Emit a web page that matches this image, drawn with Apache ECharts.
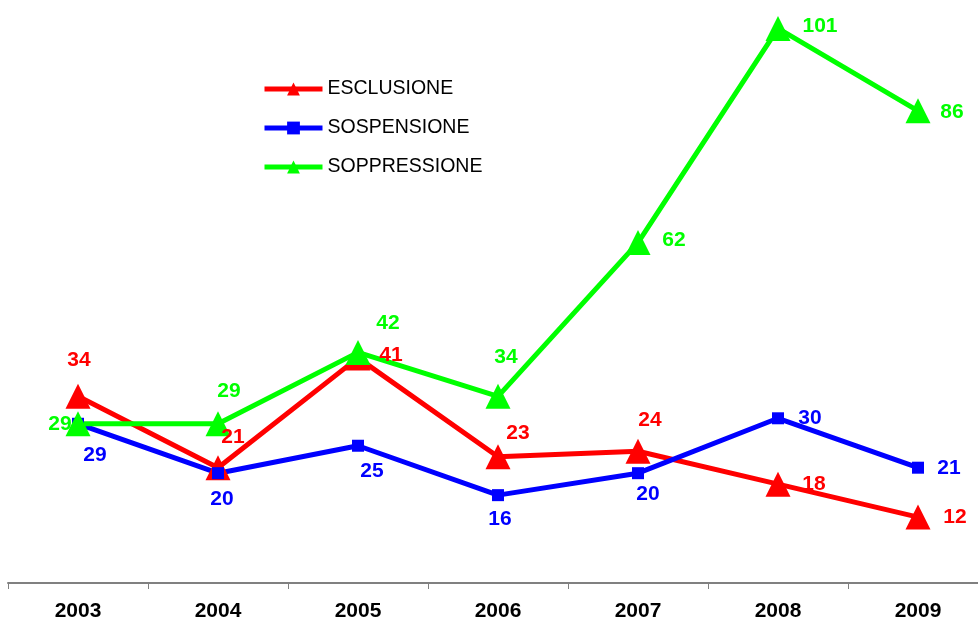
<!DOCTYPE html>
<html lang="it">
<head>
    <meta charset="UTF-8">
    <title>Esclusione / Sospensione / Soppressione</title>
    <style>
        html, body { margin: 0; padding: 0; background: #fff; overflow: hidden; }
        #main { width: 990px; height: 626px; }
    </style>
    <script src="https://cdn.jsdelivr.net/npm/echarts@6/dist/echarts.min.js"></script>
</head>
<body>
<div id="main"></div>
<script type="text/javascript">
    // dati
    var anni = ['2003', '2004', '2005', '2006', '2007', '2008', '2009'];
    var esclusione = [34, 21, 41, 23, 24, 18, 12];
    var sospensione = [29, 20, 25, 16, 20, 30, 21];
    var soppressione = [29, 29, 42, 34, 62, 101, 86];

    // spostamento delle etichette rispetto al punto [dx, dy]
    var offEsc = [[1, -36], [15, -30], [33, -3], [20, -24], [12, -31], [36, 0], [37, 0]];
    var offSos = [[17, 31], [4, 26], [14, 25], [2, 24], [10, 21], [32, 0], [31, 1]];
    var offSop = [[-18, 0], [11, -33], [30, -29], [8, -39], [36, -2], [42, -2], [34, 1]];

    function punti(valori, offs) {
        return valori.map(function (v, i) {
            return { value: v, label: { offset: offs[i] } };
        });
    }

    function serie(nome, colore, simbolo, dim, valori, offs) {
        return {
            name: nome,
            type: 'line',
            data: punti(valori, offs),
            symbol: simbolo,
            symbolSize: dim,
            showAllSymbol: true,
            lineStyle: { color: colore, width: 5 },
            itemStyle: { color: colore },
            label: {
                show: true,
                position: 'inside',
                color: colore,
                fontSize: 21,
                fontWeight: 'bold',
                fontFamily: 'Liberation Sans'
            },
            emphasis: { disabled: true },
            animation: false
        };
    }

    // il contenitore è un po' più largo della finestra: l'asse arriva al bordo destro
    var myChart = echarts.init(document.getElementById('main'));
    var option = {
        backgroundColor: '#fff',
        grid: { left: 8, top: 1, right: 2, bottom: 43, containLabel: false },
        legend: {
            orient: 'vertical',
            left: 257,
            top: 74,
            itemGap: 19,
            itemWidth: 58,
            itemHeight: 16,
            lineStyle: { width: 5 },
            textStyle: { fontSize: 19.5, color: '#000', fontFamily: 'Liberation Sans' },
            data: ['ESCLUSIONE', 'SOSPENSIONE', 'SOPPRESSIONE']
        },
        xAxis: {
            type: 'category',
            data: anni,
            boundaryGap: true,
            axisLine: { lineStyle: { color: '#808080', width: 2 } },
            axisTick: { show: true, length: 6, lineStyle: { color: '#808080' } },
            axisLabel: {
                color: '#000',
                fontSize: 21,
                fontWeight: 'bold',
                fontFamily: 'Liberation Sans',
                margin: 18
            }
        },
        yAxis: {
            type: 'value',
            min: 0,
            max: 106,
            show: false,
            splitLine: { show: false }
        },
        series: [
            serie('ESCLUSIONE', '#ff0000', 'triangle', 25, esclusione, offEsc),
            serie('SOSPENSIONE', '#0000ff', 'rect', 12, sospensione, offSos),
            serie('SOPPRESSIONE', '#00ff00', 'triangle', 25, soppressione, offSop)
        ]
    };
    myChart.setOption(option);
</script>
</body>
</html>
